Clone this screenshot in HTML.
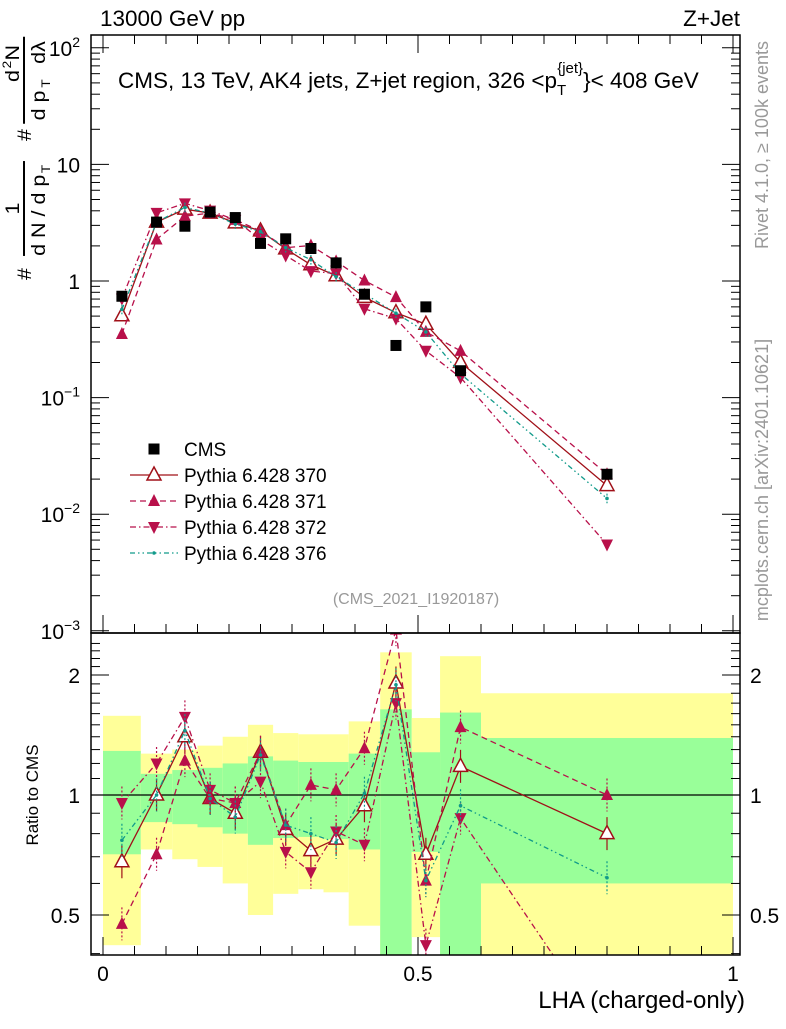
<!DOCTYPE html>
<html><head><meta charset="utf-8"><style>
body{margin:0;background:#fff;font-family:"Liberation Sans",sans-serif;}
svg text{font-family:"Liberation Sans",sans-serif;}
</style></head><body>
<svg id="c" width="786" height="1024" xmlns="http://www.w3.org/2000/svg"></svg>
<script>
const edges=[0,0.06,0.11,0.15,0.19,0.23,0.27,0.31,0.35,0.39,0.44,0.49,0.535,0.6,1.0];
const cmsVals=[0.74,3.2,2.95,3.9,3.5,2.1,2.3,1.9,1.43,0.77,0.28,0.6,0.17,0.022];
const r370=[0.68,1.0,1.40,0.98,0.90,1.28,0.82,0.725,0.775,0.94,1.91,0.71,1.18,0.80];
const r371=[0.475,0.71,1.22,0.98,0.955,1.28,0.84,1.06,1.03,1.31,2.6,0.61,1.48,1.0];
const r372=[0.955,1.2,1.57,1.03,0.955,1.08,0.72,0.64,0.81,0.75,1.7,0.42,0.875,0.25];
const r376=[0.77,1.0,1.45,0.98,0.88,1.26,0.84,0.80,0.76,1.01,1.89,0.61,0.94,0.62];
const greenLo=[0.71,0.855,0.845,0.83,0.80,0.75,0.78,0.785,0.775,0.73,0.3,0.72,0.3,0.6];
const greenHi=[1.29,1.13,1.155,1.17,1.20,1.25,1.22,1.21,1.21,1.27,1.64,1.28,1.61,1.39];
const yelLo=[0.42,0.73,0.69,0.66,0.60,0.50,0.565,0.58,0.57,0.47,0.3,0.44,0.3,0.3];
const yelHi=[1.58,1.27,1.30,1.33,1.40,1.50,1.43,1.42,1.42,1.53,2.28,1.56,2.23,1.8];
const NS='http://www.w3.org/2000/svg';
const svg=document.getElementById('c');
const L=91,R=740,T=35,MB=633,RB=955;
const X=v=>103+630*v;
const Ym=v=>281-116.6*Math.log10(v);
const Yr=v=>795-398.6*Math.log10(v);
function el(tag,attrs,parent){const e=document.createElementNS(NS,tag);for(const k in attrs)e.setAttribute(k,attrs[k]);(parent||svg).appendChild(e);return e;}
function txt(s,x,y,size,anchor,fill,parent){const t=el('text',{x:x,y:y,'font-size':size,'text-anchor':anchor||'start',fill:fill||'#000'},parent);t.textContent=s;return t;}
el('defs',{}).innerHTML='<clipPath id="cm"><rect x="91" y="35" width="649" height="598"/></clipPath><clipPath id="cr"><rect x="91" y="633" width="649" height="322"/></clipPath>';
const centers=edges.slice(0,-1).map((e,i)=>(e+edges[i+1])/2);
const bands=el('g',{'clip-path':'url(#cr)'});


for(let i=0;i<14;i++){
 const x0=X(edges[i]),x1=X(edges[i+1]);
 const y=el('rect',{x:x0,y:Yr(yelHi[i]),width:x1-x0,height:Yr(yelLo[i])-Yr(yelHi[i]),fill:'#ffff99'},bands);
 
 
 const g=el('rect',{x:x0,y:Yr(greenHi[i]),width:x1-x0,height:Yr(greenLo[i])-Yr(greenHi[i]),fill:'#99ff99'},bands);
 
 
}
el('line',{x1:L,x2:R,y1:Yr(1),y2:Yr(1),stroke:'#000','stroke-width':1.3});
const series=[
 {n:'370',r:r370,c:'#a01018',d:'',m:'otri'},
 {n:'371',r:r371,c:'#b8104a',d:'6,4',m:'utri'},
 {n:'372',r:r372,c:'#b8104a',d:'6,3,1.5,3',m:'dtri'},
 {n:'376',r:r376,c:'#109a8a',d:'5,3,1.5,3,1.5,3',m:'dot'}];
function marker(type,x,y,c,g){
 let e;
 if(type==='otri')e=el('polygon',{points:`${x},${y-8} ${x-7},${y+5} ${x+7},${y+5}`,fill:'#fff',stroke:c,'stroke-width':1.5},g);
 else if(type==='utri')e=el('polygon',{points:`${x},${y-7} ${x-6},${y+5} ${x+6},${y+5}`,fill:c},g);
 else if(type==='dtri')e=el('polygon',{points:`${x},${y+7} ${x-6},${y-5} ${x+6},${y-5}`,fill:c},g);
 else if(type==='sq')e=el('rect',{x:x-5.5,y:y-5.5,width:11,height:11,fill:'#000'},g);
 else e=el('circle',{cx:x,cy:y,r:1.8,fill:c},g);
 return e;
}
function drawSeries(s,Y,vals,clip,panel){
 const g=el('g',{'clip-path':clip});
 
 
 el('polyline',{points:vals.map((v,i)=>X(centers[i])+','+Y(v)).join(' '),fill:'none',stroke:s.c,'stroke-width':1.3,'stroke-dasharray':s.d},g);
 vals.forEach((v,i)=>{
  const x=X(centers[i]);
  el('line',{x1:x,x2:x,y1:Y(v*1.1),y2:Y(v/1.1),stroke:s.c,'stroke-width':1.2,'stroke-dasharray':s.d?'2,2':''},g);
  const m=marker(s.m,x,Y(v),s.c,g);
  
  
 });
}
series.forEach(s=>{
 drawSeries(s,Ym,cmsVals.map((c,i)=>c*s.r[i]),'url(#cm)','main');
 drawSeries(s,Yr,s.r,'url(#cr)','ratio');
});
const cg=el('g',{'clip-path':'url(#cm)'});


cmsVals.forEach((v,i)=>{const m=marker('sq',X(centers[i]),Ym(v),'#000',cg);
 
 });
el('rect',{x:L,y:T,width:R-L,height:MB-T,fill:'none',stroke:'#000','stroke-width':1.5});
el('rect',{x:L,y:MB,width:R-L,height:RB-MB,fill:'none',stroke:'#000','stroke-width':1.5});
for(let d=-3;d<=2;d++){
 for(let k=1;k<10;k++){const v=k*Math.pow(10,d);const y=Ym(v);if(y<T||y>MB)continue;
  const len=k===1?18:9;el('line',{x1:L,x2:L+len,y1:y,y2:y,stroke:'#000'});el('line',{x1:R,x2:R-len,y1:y,y2:y,stroke:'#000'});}
}
[2,1,0,-1,-2,-3].forEach(e=>{const y=Ym(Math.pow(10,e))+8;
 if(e===1)txt('10',80,y,21,'end');else if(e===0)txt('1',80,y,21,'end');
 else{const t=txt('',80,y,21,'end');t.innerHTML='10<tspan font-size="14" dy="-9">'+(e===2?'2':'\u2212'+(-e))+'</tspan>';}
});
for(let v=0.4;v<=2.5;v+=0.1){const y=Yr(v);if(y<MB||y>RB)continue;const major=Math.abs(v-0.5)<1e-6||Math.abs(v-1)<1e-6||Math.abs(v-2)<1e-6;
 const len=major?18:9;el('line',{x1:L,x2:L+len,y1:y,y2:y,stroke:'#000'});el('line',{x1:R,x2:R-len,y1:y,y2:y,stroke:'#000'});}
[[2,'2'],[1,'1'],[0.5,'0.5']].forEach(([v,s])=>{txt(s,80,Yr(v)+8,21,'end');txt(s,750,Yr(v)+8,21,'start');});
for(let v=0;v<=1.0001;v+=0.05){const x=X(v);const major=Math.round(v*100)%50===0;const len=major?18:9;
 el('line',{x1:x,x2:x,y1:RB,y2:RB-len,stroke:'#000'});el('line',{x1:x,x2:x,y1:MB,y2:MB-len,stroke:'#000'});el('line',{x1:x,x2:x,y1:T,y2:T+len,stroke:'#000'});}
[[0,'0'],[0.5,'0.5'],[1,'1']].forEach(([v,s])=>txt(s,X(v),981,21,'middle'));
txt('LHA (charged-only)',745,1008,24,'end');
txt('Ratio to CMS',0,0,17,'middle').setAttribute('transform','translate(38,795) rotate(-90)');
txt('13000 GeV pp',100,26,22.5,'start');
txt('Z+Jet',740,26,22.5,'end');
const tt=txt('',118,88,22.5,'start');tt.innerHTML='CMS, 13 TeV, AK4 jets, Z+jet region, 326 &lt;p<tspan font-size="15" dy="7">T</tspan><tspan font-size="15" dx="-9" dy="-22">{jet}</tspan><tspan dy="15">}&lt; 408 GeV</tspan>';
txt('(CMS_2021_I1920187)',416,604,16,'middle','#999');
const rv=txt('Rivet 4.1.0, \u2265 100k events',0,0,18,'middle','#999');rv.setAttribute('transform','translate(768,145) rotate(-90)');
const mp=txt('mcplots.cern.ch [arXiv:2401.10621]',0,0,18,'middle','#999');mp.setAttribute('transform','translate(768,480) rotate(-90)');
const yt=el('g',{transform:'translate(0,152) rotate(-90) scale(1.13,1)'});


el('line',{x1:-92,x2:-8,y1:24,y2:24,stroke:'#000','stroke-width':2},yt);
txt('1',-50,19,19,'middle','#000',yt);
txt('d N / d p',-56,45,19,'middle','#000',yt);
txt('T',-15,50,12,'middle','#000',yt);
txt('#',-108,31,19,'middle','#000',yt);
txt('#',15,31,19,'middle','#000',yt);
el('line',{x1:25,x2:102,y1:24,y2:24,stroke:'#000','stroke-width':2},yt);
txt('d',62,19,19,'start','#000',yt);
txt('2',74,11,12,'start','#000',yt);
txt('N',81,19,19,'start','#000',yt);
txt('d p',28,45,19,'start','#000',yt);
txt('T',57,50,12,'start','#000',yt);
txt('d\u03bb',78,45,19,'start','#000',yt);
const lg=el('g',{});


const ly0=449;
marker('sq',154,ly0,'#000',lg);txt('CMS',184,ly0+7,19,'start','#000',lg);
series.forEach((s,i)=>{const y=ly0+26*(i+1);
 el('line',{x1:130,x2:178,y1:y,y2:y,stroke:s.c,'stroke-width':1.3,'stroke-dasharray':s.d},lg);
 marker(s.m,154,y,s.c,lg);
 const t=txt('Pythia 6.428 '+s.n,184,y+7,19,'start','#000',lg);
 
 
});
</script>
</body></html>
